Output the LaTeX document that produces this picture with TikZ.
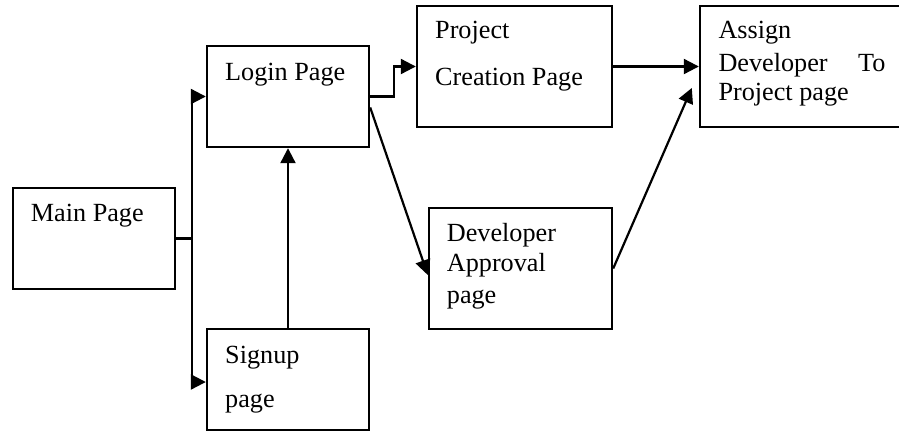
\documentclass[tikz,border=0pt]{standalone}
\usepackage{fontspec}
\setmainfont{Liberation Serif}
\usetikzlibrary{arrows.meta,positioning}
\tikzset{
  page/.style={draw, line width=2.4pt, inner sep=0pt},
  lbl/.style={anchor=base west, inner sep=0pt, font=\fontsize{26.2}{30}\selectfont},
  link/.style={line width=2.2pt},
  arr/.style={link, -{Triangle[length=15pt,width=15pt]}}
}

\begin{document}
\begin{tikzpicture}[x=1pt,y=-1pt]
\useasboundingbox (0,0) rectangle (899,432);
% Pages
\node[page, minimum width=162pt, minimum height=101pt] (main) at (94,238.5) {};
\node[page, minimum width=162pt, minimum height=101pt] (login) at (288,96.5) {};
\node[page, minimum width=162pt, minimum height=101pt] (signup) at (288,379.5) {};
\node[page, minimum width=195pt, minimum height=121pt] (project) at (514.5,66.5) {};
\node[page, minimum width=183pt, minimum height=121pt] (approval) at (520.5,268.5) {};
\node[page, minimum width=205pt, minimum height=121pt] (assign) at (802.5,66.5) {};
% Labels
\node[lbl] (mainlbl) at (30.7,221.7) {Main Page};
\node[lbl] (loginlbl) at (225,80.7) {Login Page};
\node[lbl] (signuplbl) at (225,363.3) {Signup};
\node[lbl] (signuplblb) at (225,407.3) {page};
\node[lbl] (projectlbl) at (435,38) {Project};
\node[lbl] (projectlblb) at (435,85) {Creation Page};
\node[lbl] (approvallbl) at (446.7,241.7) {Developer};
\node[lbl] (approvallblb) at (446.7,271.7) {Approval};
\node[lbl] (approvallblc) at (446.7,303) {page};
\node[lbl] (assignlbl) at (718.3,38) {Assign};
\node[lbl] (assignlblb) at (718.3,71.7) {\makebox[167pt][s]{Developer\hfill To}};
\node[lbl] (assignlblc) at (718.3,100) {Project page};
% Links
\draw[link] (main.east) -- ++(16,0) coordinate (bus);
\draw[arr] (bus) |- (login.west);
\draw[arr] (bus) |- ([yshift=-2.5pt]signup.west);
\draw[arr] (signup.north) -- (login.south);
\draw[arr] (login.east) -- ++(24,0) |- (project.west);
\draw[arr] ([yshift=-11pt]login.east) -- ([yshift=-6.5pt]approval.west);
\draw[arr] (project.east) -- (assign.west);
\coordinate (assignin) at ([xshift=-7pt,yshift=-21.5pt]assign.west);
\draw[arr] (approval.east) -- (assignin);
\end{tikzpicture}
\end{document}
